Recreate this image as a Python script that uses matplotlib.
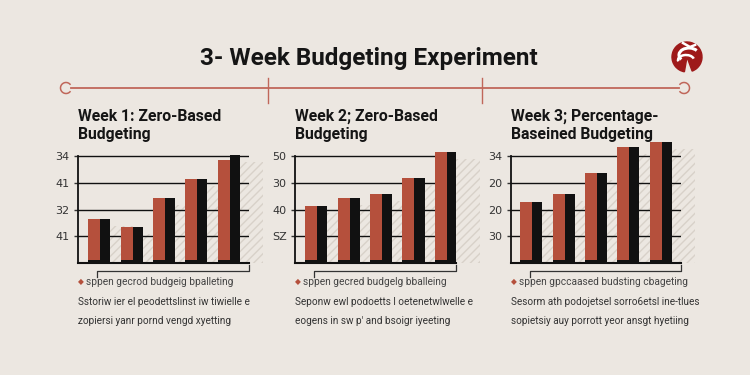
import matplotlib.pyplot as plt
from matplotlib.patches import Arc, Wedge
import numpy as np

# data (grid units, gridlines at 1..4)
week1_red = [1.64, 1.35, 2.43, 3.14, 3.85]
week1_black = [1.64, 1.35, 2.43, 3.14, 4.03]
week2_red = [2.13, 2.43, 2.58, 3.18, 4.15]
week2_black = [2.13, 2.43, 2.58, 3.18, 4.15]
week3_red = [2.28, 2.58, 3.36, 4.34, 4.52]
week3_black = [2.28, 2.58, 3.36, 4.34, 4.52]

week1_ticks = ["41", "32", "41", "34"]
week2_ticks = ["SZ", "40", "30", "50"]
week3_ticks = ["30", "20", "20", "34"]

titles = ["Week 1: Zero-Based\nBudgeting",
          "Week 2; Zero-Based\nBudgeting",
          "Week 3; Percentage-\nBaseined Budgeting"]
legend_texts = ["sppen gecrod budgeig bpalleting",
                "sppen gecred budgelg bballeing",
                "sppen gpccaased budsting cbageting"]
captions = ["Sstoriw ier el peodettslinst iw tiwielle e\nzopiersi yanr pornd vengd xyetting",
            "Seponw ewl podoetts l oetenetwlwelle e\neogens in sw p' and bsoigr iyeeting",
            "Sesorm ath podojetsel sorro6etsl ine-tlues\nsopietsiy auy porrott yeor ansgt hyetiing"]

bg = "#ece7e1"
red = "#b5503c"
dark = "#111111"
line_red = "#c0675a"

W, H = 750, 375
fig = plt.figure(figsize=(7.5, 3.75), dpi=100, facecolor=bg)

# overlay in pixel coordinates for the decorations
ov = fig.add_axes([0, 0, 1, 1])
ov.set_xlim(0, W)
ov.set_ylim(H, 0)
ov.axis("off")
ov.set_zorder(5)
ov.patch.set_visible(False)

ov.text(369, 58, "3- Week Budgeting Experiment", ha="center", va="center",
        fontsize=17.5, fontweight="bold", family="Roboto", color="#151515")

# timeline
ov.plot([71, 679], [88, 88], color=line_red, lw=1.3)
for xp in [268, 482]:
    ov.plot([xp, xp], [78, 103], color=line_red, lw=1.0)
ov.add_patch(Arc((66, 88), 11, 11, theta1=35, theta2=325, color=line_red, lw=1.1))
ov.add_patch(Arc((684, 88), 11, 11, theta1=-145, theta2=145, color=line_red, lw=1.1))

# logo
ov.add_patch(Wedge((687, 57), 15, 100, 430, width=15, color="#9e1a1a"))
ov.add_patch(Arc((689, 55), 20, 14, theta1=150, theta2=330, color="white", lw=2.2))
ov.add_patch(Arc((686, 60), 16, 10, theta1=170, theta2=350, color="white", lw=1.8))
ov.plot([683, 690, 695], [43, 47, 45], color="white", lw=1.8)

panels = [
    (78, 249, -0.65, 4.62, week1_red, week1_black, week1_ticks),
    (295, 456, -0.65, 4.31, week2_red, week2_black, week2_ticks),
    (511, 681, -0.62, 4.62, week3_red, week3_black, week3_ticks),
]

unit = 26.75
bottom_px = 263
ytop = 4.65
x = np.arange(5)

for i, (left, right, x0, x1, reds, blacks, ticks) in enumerate(panels):
    ax = fig.add_axes([left / W, 1 - bottom_px / H, (right - left) / W, ytop * unit / H])
    ax.set_facecolor("none")
    ax.set_xlim(x0, x1)
    ax.set_ylim(0, ytop)

    # hatched shadow to the right of each pair
    sh = ax.bar(x + 0.1, np.array(blacks) - 0.25, width=0.95, align="edge",
                color="none", hatch="////", edgecolor="#d8d1c9", lw=0, zorder=1)
    for b in sh:
        b.set_clip_on(False)
    for yv in range(1, 5):
        ax.axhline(yv, color=dark, lw=1.0, zorder=2)
    ax.bar(x - 0.34, reds, width=0.37, align="edge", color=red, zorder=3)
    ax.bar(x + 0.03, blacks, width=0.31, align="edge", color=dark, zorder=3)
    ax.bar(x - 0.34, [0.1] * 5, width=0.68, align="edge", color=dark, zorder=4)

    for s in ["top", "right"]:
        ax.spines[s].set_visible(False)
    ax.spines["left"].set_bounds(0, 4)
    ax.spines["left"].set_linewidth(1.3)
    ax.spines["bottom"].set_linewidth(1.5)
    ax.spines["left"].set_color(dark)
    ax.spines["bottom"].set_color(dark)
    ax.set_xticks([])
    ax.set_yticks([1, 2, 3, 4])
    ax.set_yticklabels(ticks)
    ax.tick_params(axis="y", length=3, width=1, labelsize=8, colors="#333333", pad=3)

    # panel title
    ov.text(left, 109, titles[i], ha="left", va="top", fontsize=11.3,
            fontweight="bold", family="Roboto", color="#151515", linespacing=1.25)

    # bracket under chart
    bl = left + 19
    ov.plot([bl, bl, right, right], [277, 271, 271, 265], color="#333333", lw=0.9)

    # legend
    ov.text(left, 282, "\u25c6", ha="left", va="center", fontsize=5.5, color=red)
    ov.text(left + 8, 282, legend_texts[i], ha="left", va="center",
            fontsize=7.3, family="Roboto", color="#444444")

    # caption
    lines = captions[i].split("\n")
    ov.text(left, 302, lines[0], ha="left", va="center", fontsize=7.2,
            family="Roboto", color="#333333")
    ov.text(left, 321, lines[1], ha="left", va="center", fontsize=7.2,
            family="Roboto", color="#333333")

fig.savefig("out.png", dpi=100, facecolor=bg)
